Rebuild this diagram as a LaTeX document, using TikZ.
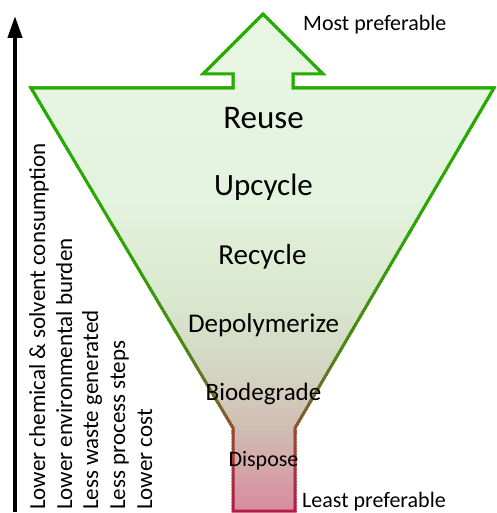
\documentclass[tikz,border=0pt]{standalone}
\usepackage{fontspec}
\setmainfont{Carlito}
\usetikzlibrary{arrows.meta}
% fill stops
\definecolor{f0}{RGB}{232,246,228}
\definecolor{f1}{RGB}{228,243,222}
\definecolor{f2}{RGB}{218,231,206}
\definecolor{f3}{RGB}{211,210,192}
\definecolor{f4}{RGB}{208,188,178}
\definecolor{f5}{RGB}{216,138,158}
% border stops
\definecolor{b0}{RGB}{36,175,0}
\definecolor{b1}{RGB}{45,165,5}
\definecolor{b2}{RGB}{70,140,15}
\definecolor{b3}{RGB}{110,110,40}
\definecolor{b4}{RGB}{150,75,45}
\definecolor{b5}{RGB}{180,25,75}
\tikzset{
  funnel/.style={insert path={(263,14) -- (323,74) -- (293,74) -- (293,88) -- (494,88) -- (295,428) -- (295,511) -- (233,511) -- (233,428) -- (31,88) -- (233,88) -- (233,74) -- (203,74) -- cycle}},
  stage/.style={font=\fontsize{#1}{#1}\selectfont, anchor=base, inner sep=0pt},
  side/.style={font=\fontsize{23}{23}\selectfont, anchor=base west, rotate=90, inner sep=0pt},
  pref/.style={font=\fontsize{22}{22}\selectfont, anchor=base west, inner sep=0pt},
}
\newcommand\bordseg[4]{%
  \pgfmathtruncatemacro\nn{(#2-#1)/3}%
  \foreach \k in {0,...,\nn}{%
    \pgfmathsetmacro\yy{#1+3*\k}%
    \pgfmathsetmacro\pp{min(100,\k/(#2-#1)*300)}%
    \begin{scope}
      \clip (0,\yy) rectangle (496,\yy+3.3);
      \draw[draw=#4!\pp!#3, line width=3pt, line join=miter][funnel];
    \end{scope}
  }}
\begin{document}
\begin{tikzpicture}[x=1pt,y=-1pt]
\useasboundingbox (0,0) rectangle (496,513);
\begin{scope}
  \clip[funnel];
  \shade[top color=f0,bottom color=f1] (0,8) rectangle (496,201);
  \shade[top color=f1,bottom color=f2] (0,200) rectangle (496,301);
  \shade[top color=f2,bottom color=f3] (0,300) rectangle (496,381);
  \shade[top color=f3,bottom color=f4] (0,380) rectangle (496,431);
  \shade[top color=f4,bottom color=f5] (0,430) rectangle (496,514);
\end{scope}
\bordseg{8}{230}{b0}{b1}
\bordseg{230}{330}{b1}{b2}
\bordseg{330}{400}{b2}{b3}
\bordseg{400}{430}{b3}{b4}
\bordseg{430}{515}{b4}{b5}
\node[stage=33] (reuse) at (263.5,129) {Reuse};
\node[stage=31] (upcycle) at (263.5,195) {Upcycle};
\node[stage=29] (recycle) at (262.5,264) {Recycle};
\node[stage=27] (depoly) at (263.5,332) {Depolymerize};
\node[stage=25] (biodeg) at (263.5,400) {Biodegrade};
\node[stage=22] (dispose) at (263.5,466) {Dispose};
\node[pref] (most) at (303,31) {Most preferable};
\node[pref] (least) at (302,507) {Least preferable};
\node[side] (t1) at (45,510) {Lower chemical \& solvent consumption};
\node[side] (t2) at (72,510) {Lower environmental burden};
\node[side] (t3) at (98,510) {Less waste generated};
\node[side] (t4) at (125,510) {Less process steps};
\node[side] (t5) at (152,510) {Lower cost};
\coordinate (abot) at (15,512);
\coordinate (atop) at (15,16);
\draw[line width=4pt, -{Triangle[width=14pt,length=22pt]}] (abot) -- (atop);
\end{tikzpicture}
\end{document}
